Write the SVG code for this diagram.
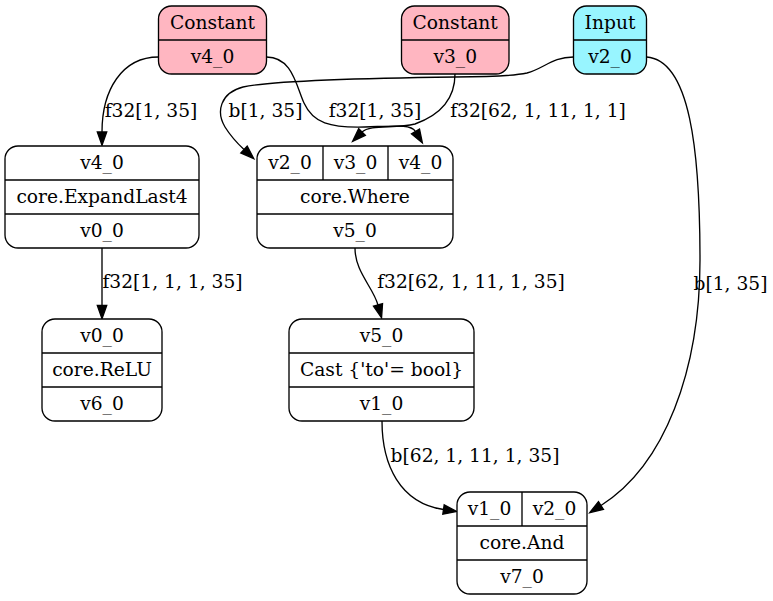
<svg xmlns="http://www.w3.org/2000/svg" width="773" height="601" viewBox="0 0 773 601">
  <style>
    .box { stroke: #000; stroke-width: 1.33; }
    .plain { fill: #ffffff; }
    .const { fill: #ffb6c1; }
    .input { fill: #98f5ff; }
    .sep { stroke: #000; stroke-width: 1.33; fill: none; }
    .edge { stroke: #000; stroke-width: 1.33; fill: none; marker-end: url(#arrow); }
    text { font-family: "DejaVu Serif", "Liberation Serif", serif; font-size: 18.67px; fill: #000; text-anchor: middle; }
  </style>
  <defs>
    <marker id="arrow" markerUnits="userSpaceOnUse" markerWidth="15" markerHeight="11" viewBox="0 0 15 11" refX="0.5" refY="5.5" orient="auto" overflow="visible">
      <path d="M0.5,0.8 L13.8,5.5 L0.5,10.2 z" fill="#000" stroke="#000" stroke-width="1.33"/>
    </marker>
  </defs>
  <rect width="773" height="601" fill="#ffffff"/>

  <!-- connectors -->
  <g id="edges">
    <path class="edge" d="M158.5,57 C122,57 102,90 102,132"/>
    <text x="151" y="117">f32[1, 35]</text>

    <path class="edge" d="M266.5,57 C292,57 296,85 304,103 C313,123 330,128 365,127 C395,126 411,124 415.5,131.5"/>
    <text x="375" y="117">f32[1, 35]</text>

    <path class="edge" d="M455,74 C455,100 440,115 415,124 C395,129 370,124 362,132"/>
    <text x="538" y="117">f32[62, 1, 11, 1, 1]</text>

    <path class="edge" d="M573.5,57 C552,57 545,68 527,73 C508,77 480,77 455,77 C380,78 275,80 243,87 C220,93 216,112 225,127 C230,135 237,143 244,149.5"/>
    <text x="265.5" y="117">b[1, 35]</text>

    <path class="edge" d="M646.5,57 C690,60 700,150 700,260 C700,370 665,465 601,505.5"/>
    <text x="730.5" y="290">b[1, 35]</text>

    <path class="edge" d="M355,248 C355,272 373,287 378,305"/>
    <text x="471" y="288">f32[62, 1, 11, 1, 35]</text>

    <path class="edge" d="M102,248 L102,305.5"/>
    <text x="172.5" y="288">f32[1, 1, 1, 35]</text>

    <path class="edge" d="M382,421 C382,465 400,503 443.5,509.5"/>
    <text x="475" y="462">b[62, 1, 11, 1, 35]</text>
  </g>

  <!-- Constant v4_0 -->
  <g id="const_v4">
    <rect class="box const" x="158.5" y="6" width="108" height="68" rx="13"/>
    <line class="sep" x1="158.5" y1="40" x2="266.5" y2="40"/>
    <text x="212.5" y="29">Constant</text>
    <text x="212.5" y="63">v4_0</text>
  </g>

  <!-- Constant v3_0 -->
  <g id="const_v3">
    <rect class="box const" x="401.5" y="6" width="107.5" height="68" rx="13"/>
    <line class="sep" x1="401.5" y1="40" x2="509" y2="40"/>
    <text x="455.2" y="29">Constant</text>
    <text x="455.2" y="63">v3_0</text>
  </g>

  <!-- Input v2_0 -->
  <g id="input_v2">
    <rect class="box input" x="573.5" y="6" width="73" height="68" rx="13"/>
    <line class="sep" x1="573.5" y1="40" x2="646.5" y2="40"/>
    <text x="610" y="29">Input</text>
    <text x="610" y="63">v2_0</text>
  </g>

  <!-- core.ExpandLast4 -->
  <g id="expand">
    <rect class="box plain" x="5" y="146" width="194" height="102" rx="13"/>
    <line class="sep" x1="5" y1="180" x2="199" y2="180"/>
    <line class="sep" x1="5" y1="214" x2="199" y2="214"/>
    <text x="102" y="169">v4_0</text>
    <text x="102" y="203">core.ExpandLast4</text>
    <text x="102" y="237">v0_0</text>
  </g>

  <!-- core.Where -->
  <g id="where">
    <rect class="box plain" x="257" y="146" width="196" height="102" rx="13"/>
    <line class="sep" x1="257" y1="180" x2="453" y2="180"/>
    <line class="sep" x1="257" y1="214" x2="453" y2="214"/>
    <line class="sep" x1="323" y1="146" x2="323" y2="180"/>
    <line class="sep" x1="388" y1="146" x2="388" y2="180"/>
    <text x="290" y="169">v2_0</text>
    <text x="355.5" y="169">v3_0</text>
    <text x="420.5" y="169">v4_0</text>
    <text x="355" y="203">core.Where</text>
    <text x="355" y="237">v5_0</text>
  </g>

  <!-- core.ReLU -->
  <g id="relu">
    <rect class="box plain" x="42" y="319" width="120" height="102" rx="13"/>
    <line class="sep" x1="42" y1="353" x2="162" y2="353"/>
    <line class="sep" x1="42" y1="387" x2="162" y2="387"/>
    <text x="102" y="342">v0_0</text>
    <text x="102" y="376">core.ReLU</text>
    <text x="102" y="410">v6_0</text>
  </g>

  <!-- Cast -->
  <g id="cast">
    <rect class="box plain" x="289" y="319" width="185" height="102" rx="13"/>
    <line class="sep" x1="289" y1="353" x2="474" y2="353"/>
    <line class="sep" x1="289" y1="387" x2="474" y2="387"/>
    <text x="381.5" y="342">v5_0</text>
    <text x="381.5" y="376">Cast {'to'= bool}</text>
    <text x="381.5" y="410">v1_0</text>
  </g>

  <!-- core.And -->
  <g id="and">
    <rect class="box plain" x="457" y="492" width="130" height="102" rx="13"/>
    <line class="sep" x1="457" y1="526" x2="587" y2="526"/>
    <line class="sep" x1="457" y1="560" x2="587" y2="560"/>
    <line class="sep" x1="522" y1="492" x2="522" y2="526"/>
    <text x="489.5" y="515">v1_0</text>
    <text x="554.5" y="515">v2_0</text>
    <text x="522" y="549">core.And</text>
    <text x="522" y="583">v7_0</text>
  </g>
</svg>
